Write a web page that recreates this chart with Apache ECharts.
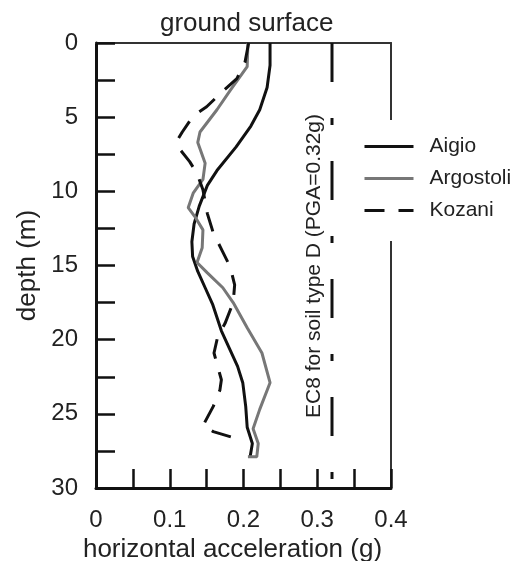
<!DOCTYPE html>
<html lang="en">
<head>
    <meta charset="UTF-8">
    <title>Peak horizontal acceleration vs depth</title>
    <script src="https://cdn.jsdelivr.net/npm/echarts@6/dist/echarts.min.js"></script>
    <style>
        html, body { margin: 0; padding: 0; background: #fff; }
        #chart { width: 510px; height: 561px; }
    </style>
</head>
<body>
    <div id="chart"></div>
    <script>
        // [acceleration (g), depth (m)]
        const aigio = [
            [0.236, 0], [0.236, 1.5], [0.232, 3], [0.222, 4.5], [0.21, 5.6], [0.19, 7],
            [0.164, 8.6], [0.151, 9.6], [0.14, 11], [0.133, 12.2], [0.130, 13.4], [0.131, 14.4],
            [0.138, 15.4], [0.148, 16.5], [0.158, 17.6], [0.170, 19.4], [0.181, 20.6],
            [0.192, 21.8], [0.199, 22.9], [0.203, 24.5], [0.205, 25.9], [0.212, 27.0], [0.209, 27.9]
        ];
        const argostoli = [
            [0.206, 0], [0.205, 1.6], [0.182, 3.2], [0.164, 4.5], [0.141, 6.0], [0.138, 6.7],
            [0.148, 8.1], [0.145, 9.2], [0.132, 10.1], [0.125, 11.1], [0.134, 11.7], [0.145, 12.6],
            [0.144, 13.8], [0.137, 14.8], [0.151, 15.5], [0.172, 16.5], [0.186, 17.5],
            [0.205, 19.2], [0.225, 20.9], [0.236, 22.9], [0.222, 24.7], [0.213, 26.0],
            [0.220, 27.0], [0.218, 27.9], [0.206, 27.9]
        ];
        const kozani = [
            [0.207, 0], [0.202, 1.3], [0.191, 2.4], [0.171, 3.3], [0.150, 4.3], [0.132, 4.9],
            [0.117, 6.0], [0.111, 6.5], [0.111, 7.0], [0.127, 8.0], [0.137, 8.8], [0.145, 9.9],
            [0.151, 11.5], [0.159, 12.8], [0.171, 14.0], [0.182, 15.1], [0.188, 16.3],
            [0.186, 17.5], [0.175, 18.9], [0.165, 19.8], [0.160, 20.9], [0.166, 22.0],
            [0.170, 22.7], [0.168, 23.4], [0.159, 24.5], [0.145, 25.8], [0.159, 26.2], [0.186, 26.6]
        ];
        const ec8Pga = 0.32;
        const depthRange = [0, 30];
        const xTickLabels = ['0', '0.1', '0.2', '0.3', '0.4'];
        const yTickLabels = ['0', '5', '10', '15', '20', '25', '30'];

        const font = 'Liberation Sans, Arial, sans-serif';
        const chart = echarts.init(document.getElementById('chart'));

        const option = {
            backgroundColor: '#fff',
            animation: false,
            title: {
                text: 'ground surface',
                left: 155,
                top: 6,
                textStyle: { fontFamily: font, fontSize: 26, fontWeight: 'normal', color: '#222' }
            },
            legend: {
                data: ['Aigio', 'Argostoli', 'Kozani'],
                orient: 'vertical',
                left: 360,
                top: 120,
                backgroundColor: '#fff',
                padding: [16, 20, 20, 3],
                itemGap: 11,
                itemWidth: 49,
                itemHeight: 14,
                itemStyle: { opacity: 0 },
                lineStyle: { width: 3 },
                textStyle: { fontFamily: font, fontSize: 21, color: '#222', padding: [0, 0, 0, 11] }
            },
            grid: { left: 96, right: 119, top: 43, bottom: 73, show: false, outerBoundsMode: 'none' },
            xAxis: [{
                type: 'value',
                min: 0, max: 0.4, interval: 0.05,
                name: 'horizontal acceleration (g)',
                nameLocation: 'middle',
                nameGap: 44,
                nameTextStyle: { fontFamily: font, fontSize: 26, color: '#222', padding: [0, 22, 0, 0] },
                axisLine: { onZero: false, lineStyle: { color: '#111', width: 3 } },
                axisTick: { inside: true, length: 19, lineStyle: { color: '#111', width: 2.5 } },
                axisLabel: {
                    fontFamily: font, fontSize: 24, color: '#222', margin: 20,
                    formatter: v => {
                        const k = Math.round(v * 20);
                        return k % 2 === 0 ? xTickLabels[k / 2] : '';
                    }
                },
                splitLine: { show: false }
            }, {
                type: 'value', position: 'top',
                min: 0, max: 0.4,
                axisLine: { onZero: false, lineStyle: { color: '#333', width: 2 } },
                axisTick: { show: false }, axisLabel: { show: false }, splitLine: { show: false }
            }],
            yAxis: [{
                type: 'value',
                inverse: true,
                min: depthRange[0], max: depthRange[1], interval: 2.5,
                name: 'depth (m)',
                nameLocation: 'middle',
                nameGap: 55,
                nameTextStyle: { fontFamily: font, fontSize: 26, color: '#222' },
                axisLine: { onZero: false, lineStyle: { color: '#111', width: 3 } },
                axisTick: { inside: true, length: 19, lineStyle: { color: '#111', width: 2.5 } },
                axisLabel: {
                    fontFamily: font, fontSize: 24, color: '#222', margin: 18,
                    formatter: v => {
                        const k = Math.round(v / 2.5);
                        return k % 2 === 0 ? yTickLabels[k / 2] : '';
                    }
                },
                splitLine: { show: false }
            }, {
                type: 'value', position: 'right', inverse: true,
                min: depthRange[0], max: depthRange[1],
                axisLine: { onZero: false, lineStyle: { color: '#333', width: 2 } },
                axisTick: { show: false }, axisLabel: { show: false }, splitLine: { show: false }
            }],
            graphic: [{
                type: 'text',
                x: 314, y: 266,
                rotation: Math.PI / 2,
                style: {
                    text: 'EC8 for soil type D (PGA=0.32g)',
                    font: '21px ' + font,
                    fill: '#222',
                    textAlign: 'center',
                    textVerticalAlign: 'middle'
                }
            }],
            series: [{
                name: 'EC8',
                type: 'line',
                data: [[ec8Pga, depthRange[0]], [ec8Pga, depthRange[1]]],
                symbol: 'none',
                silent: true,
                lineStyle: { color: '#111', width: 3, type: [39, 36, 7, 36], cap: 'butt' }
            }, {
                name: 'Aigio',
                type: 'line',
                data: aigio,
                symbol: 'none',
                lineStyle: { color: '#111', width: 3 },
                itemStyle: { color: '#111' }
            }, {
                name: 'Argostoli',
                type: 'line',
                data: argostoli,
                symbol: 'none',
                lineStyle: { color: '#777', width: 3 },
                itemStyle: { color: '#777' }
            }, {
                name: 'Kozani',
                type: 'line',
                data: kozani,
                symbol: 'none',
                lineStyle: { color: '#111', width: 3, type: [20, 14] },
                itemStyle: { color: '#111' }
            }]
        };

        chart.setOption(option);
    </script>
</body>
</html>
